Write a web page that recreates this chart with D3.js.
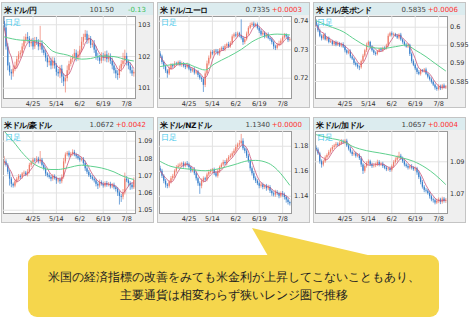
<!DOCTYPE html>
<html>
<head>
<meta charset="utf-8">
<script src="https://cdn.jsdelivr.net/npm/d3@7"></script>
<style>
  body { margin: 0; background: #fff; }
  svg { display: block; }
  text { font-family: "DejaVu Sans", sans-serif; }
</style>
</head>
<body>
<div id="chart"></div>
<script>
// Daily candles, 2014-04-03 .. 2014-07-14 (73 trading days)
const dayCount = 73;
const tickDays = [16, 29, 42, 55, 68];
const tickLabels = ["4/25", "5/14", "6/2", "6/19", "7/8"];

// USD/JPY
const jpyClose = [
  102.9, 102.3, 101.7, 101.5, 101.45, 101.6, 101.7, 101.9, 102.05, 102.1,
  102.3, 102.5, 102.6, 102.55, 102.4, 102.45, 102.3, 102.5, 102.45, 102.3,
  102.4, 102.2, 102.1, 101.95, 101.8, 101.85, 101.7, 101.85, 101.7, 101.5,
  101.45, 101.6, 101.35, 101.2, 101.3, 101.55, 101.75, 101.9, 101.95, 102.1,
  101.95, 102.05, 102.2, 102.45, 102.6, 102.7, 102.5, 102.55, 102.35, 102.4,
  102.2, 102.0, 101.95, 101.85, 102.0, 101.95, 102.05, 101.9, 102.0, 101.85,
  101.7, 101.55, 101.45, 101.4, 101.6, 101.75, 101.85, 102.0, 101.8, 101.7,
  101.55, 101.45, 101.5];
const jpyUpper = [
  0.2, 0.12, 0.1, 0.1, 0.08, 0.1, 0.12, 0.1, 0.1, 0.08,
  0.1, 0.12, 0.1, 0.15, 0.08, 0.1, 0.12, 0.1, 0.1, 0.08,
  0.55, 0.1, 0.12, 0.1, 0.08, 0.1, 0.1, 0.12, 0.1, 0.08,
  0.1, 0.1, 0.12, 0.1, 0.1, 0.15, 0.1, 0.08, 0.1, 0.12,
  0.1, 0.1, 0.12, 0.15, 0.1, 0.12, 0.1, 0.12, 0.08, 0.1,
  0.1, 0.12, 0.1, 0.08, 0.12, 0.1, 0.1, 0.12, 0.1, 0.08,
  0.1, 0.1, 0.08, 0.1, 0.1, 0.12, 0.25, 0.2, 0.1, 0.08,
  0.1, 0.1, 0.08];
const jpyLower = [
  0.1, 0.1, 0.15, 0.12, 0.2, 0.1, 0.08, 0.1, 0.1, 0.12,
  0.1, 0.08, 0.1, 0.1, 0.12, 0.1, 0.1, 0.08, 0.1, 0.12,
  0.1, 0.1, 0.08, 0.12, 0.15, 0.1, 0.12, 0.1, 0.1, 0.12,
  0.1, 0.15, 0.2, 0.15, 0.35, 0.1, 0.1, 0.08, 0.1, 0.1,
  0.12, 0.1, 0.1, 0.08, 0.1, 0.1, 0.12, 0.1, 0.1, 0.08,
  0.1, 0.12, 0.1, 0.1, 0.08, 0.1, 0.12, 0.1, 0.1, 0.1,
  0.12, 0.1, 0.15, 0.15, 0.1, 0.1, 0.08, 0.1, 0.1, 0.12,
  0.1, 0.08, 0.1];
const jpyLongMa = [[0, 102.6], [9, 102.5], [20, 102.47], [27, 102.15], [35, 102.03], [43, 101.9],
  [48, 101.92], [54, 102.0], [61, 101.98], [68, 101.88], [72, 101.84]];

// USD/EUR
const eurClose = [
  0.7275, 0.7255, 0.7240, 0.7225, 0.7215, 0.7232, 0.7245, 0.7240, 0.7250, 0.7248,
  0.7255, 0.7245, 0.7250, 0.7242, 0.7238, 0.7245, 0.7232, 0.7225, 0.7230, 0.7218,
  0.7222, 0.7210, 0.7200, 0.7195, 0.7175, 0.7215, 0.7250, 0.7270, 0.7290, 0.7285,
  0.7295, 0.7292, 0.7285, 0.7298, 0.7305, 0.7300, 0.7312, 0.7318, 0.7310, 0.7322,
  0.7345, 0.7352, 0.7348, 0.7356, 0.7350, 0.7340, 0.7325, 0.7335, 0.7355, 0.7375,
  0.7385, 0.7390, 0.7382, 0.7388, 0.7375, 0.7365, 0.7352, 0.7358, 0.7345, 0.7352,
  0.7340, 0.7335, 0.7325, 0.7310, 0.7305, 0.7315, 0.7320, 0.7330, 0.7342, 0.7350,
  0.7345, 0.7332, 0.7335];
const eurUpper = [
  0.0008, 0.0006, 0.0005, 0.0006, 0.0005, 0.0007, 0.0006, 0.0005, 0.0008, 0.0006,
  0.0005, 0.0006, 0.0007, 0.0005, 0.0006, 0.0008, 0.0005, 0.0006, 0.0005, 0.0007,
  0.0006, 0.0005, 0.0006, 0.0005, 0.0006, 0.0008, 0.0010, 0.0008, 0.0006, 0.0007,
  0.0005, 0.0006, 0.0008, 0.0006, 0.0005, 0.0007, 0.0006, 0.0005, 0.0008, 0.0006,
  0.0007, 0.0006, 0.0008, 0.0006, 0.0005, 0.0055, 0.0006, 0.0008, 0.0007, 0.0006,
  0.0008, 0.0006, 0.0007, 0.0005, 0.0006, 0.0005, 0.0007, 0.0006, 0.0005, 0.0006,
  0.0007, 0.0005, 0.0006, 0.0005, 0.0006, 0.0007, 0.0010, 0.0008, 0.0006, 0.0007,
  0.0006, 0.0005, 0.0006];
const eurLower = [
  0.0006, 0.0008, 0.0010, 0.0008, 0.0015, 0.0006, 0.0005, 0.0007, 0.0006, 0.0005,
  0.0006, 0.0005, 0.0007, 0.0006, 0.0008, 0.0005, 0.0006, 0.0008, 0.0006, 0.0007,
  0.0006, 0.0008, 0.0007, 0.0010, 0.0025, 0.0008, 0.0006, 0.0007, 0.0005, 0.0006,
  0.0007, 0.0005, 0.0006, 0.0008, 0.0005, 0.0006, 0.0007, 0.0005, 0.0006, 0.0005,
  0.0006, 0.0007, 0.0005, 0.0006, 0.0008, 0.0006, 0.0010, 0.0007, 0.0005, 0.0006,
  0.0005, 0.0007, 0.0006, 0.0005, 0.0006, 0.0008, 0.0006, 0.0005, 0.0007, 0.0006,
  0.0005, 0.0006, 0.0008, 0.0010, 0.0008, 0.0006, 0.0005, 0.0006, 0.0007, 0.0005,
  0.0006, 0.0007, 0.0005];
const eurLongMa = [[0, 0.7239], [14, 0.7250], [19, 0.7239], [25, 0.7227], [30, 0.7248], [38, 0.7274],
  [45, 0.7299], [51, 0.7326], [58, 0.7346], [65, 0.7353], [72, 0.7350]];

// USD/GBP
const gbpClose = [
  0.6005, 0.5990, 0.5975, 0.5968, 0.5978, 0.5965, 0.5970, 0.5958, 0.5960, 0.5952,
  0.5958, 0.5950, 0.5955, 0.5948, 0.5952, 0.5945, 0.5935, 0.5928, 0.5932, 0.5918,
  0.5912, 0.5900, 0.5895, 0.5890, 0.5888, 0.5905, 0.5920, 0.5935, 0.5950, 0.5958,
  0.5945, 0.5935, 0.5928, 0.5925, 0.5932, 0.5938, 0.5935, 0.5942, 0.5940, 0.5948,
  0.5975, 0.5982, 0.5978, 0.5980, 0.5975, 0.5970, 0.5978, 0.5965, 0.5958, 0.5950,
  0.5945, 0.5950, 0.5925, 0.5905, 0.5895, 0.5885, 0.5875, 0.5870, 0.5880, 0.5878,
  0.5882, 0.5870, 0.5862, 0.5855, 0.5848, 0.5840, 0.5832, 0.5828, 0.5835, 0.5830,
  0.5838, 0.5832, 0.5835];
const gbpUpper = [
  0.0006, 0.0004, 0.0005, 0.0004, 0.0003, 0.0005, 0.0004, 0.0003, 0.0005, 0.0004,
  0.0003, 0.0004, 0.0005, 0.0003, 0.0004, 0.0005, 0.0004, 0.0003, 0.0004, 0.0005,
  0.0004, 0.0003, 0.0004, 0.0005, 0.0003, 0.0004, 0.0005, 0.0004, 0.0006, 0.0004,
  0.0003, 0.0004, 0.0005, 0.0004, 0.0003, 0.0004, 0.0005, 0.0003, 0.0004, 0.0005,
  0.0006, 0.0004, 0.0005, 0.0004, 0.0003, 0.0005, 0.0004, 0.0005, 0.0003, 0.0004,
  0.0005, 0.0004, 0.0003, 0.0004, 0.0005, 0.0004, 0.0003, 0.0005, 0.0004, 0.0003,
  0.0004, 0.0005, 0.0003, 0.0004, 0.0005, 0.0004, 0.0003, 0.0004, 0.0006, 0.0005,
  0.0004, 0.0005, 0.0004];
const gbpLower = [
  0.0004, 0.0005, 0.0004, 0.0006, 0.0004, 0.0003, 0.0005, 0.0004, 0.0003, 0.0004,
  0.0005, 0.0004, 0.0003, 0.0004, 0.0005, 0.0004, 0.0006, 0.0005, 0.0004, 0.0005,
  0.0004, 0.0006, 0.0005, 0.0006, 0.0008, 0.0004, 0.0003, 0.0004, 0.0005, 0.0004,
  0.0005, 0.0004, 0.0006, 0.0005, 0.0004, 0.0003, 0.0004, 0.0005, 0.0004, 0.0003,
  0.0004, 0.0003, 0.0005, 0.0004, 0.0003, 0.0004, 0.0005, 0.0004, 0.0005, 0.0004,
  0.0003, 0.0004, 0.0006, 0.0005, 0.0004, 0.0005, 0.0006, 0.0004, 0.0005, 0.0004,
  0.0005, 0.0004, 0.0005, 0.0004, 0.0005, 0.0004, 0.0006, 0.0005, 0.0004, 0.0005,
  0.0004, 0.0003, 0.0004];
const gbpLongMa = [[0, 0.60166], [7, 0.60018], [15, 0.59862], [22, 0.59632], [29, 0.59448], [37, 0.59401],
  [44, 0.59448], [50, 0.59494], [55, 0.59355], [61, 0.59171], [66, 0.58987], [72, 0.58775]];

// USD/AUD
const audClose = [
  1.0780, 1.0760, 1.0720, 1.0680, 1.0650, 1.0640, 1.0665, 1.0680, 1.0695, 1.0690,
  1.0710, 1.0715, 1.0705, 1.0720, 1.0760, 1.0775, 1.0790, 1.0785, 1.0795, 1.0780,
  1.0790, 1.0760, 1.0740, 1.0710, 1.0700, 1.0690, 1.0680, 1.0695, 1.0685, 1.0670,
  1.0675, 1.0665, 1.0690, 1.0780, 1.0820, 1.0830, 1.0815, 1.0825, 1.0835, 1.0820,
  1.0810, 1.0800, 1.0790, 1.0795, 1.0770, 1.0740, 1.0720, 1.0700, 1.0690, 1.0680,
  1.0670, 1.0650, 1.0640, 1.0660, 1.0650, 1.0640, 1.0655, 1.0645, 1.0650, 1.0635,
  1.0645, 1.0630, 1.0620, 1.0600, 1.0580, 1.0575, 1.0600, 1.0680, 1.0670, 1.0655,
  1.0645, 1.0630, 1.0672];
const audUpper = [
  0.0030, 0.0012, 0.0010, 0.0012, 0.0010, 0.0008, 0.0012, 0.0010, 0.0012, 0.0010,
  0.0008, 0.0012, 0.0010, 0.0015, 0.0012, 0.0010, 0.0012, 0.0010, 0.0015, 0.0012,
  0.0050, 0.0010, 0.0012, 0.0010, 0.0008, 0.0012, 0.0010, 0.0012, 0.0010, 0.0008,
  0.0010, 0.0012, 0.0015, 0.0020, 0.0012, 0.0010, 0.0012, 0.0010, 0.0015, 0.0012,
  0.0010, 0.0012, 0.0010, 0.0012, 0.0010, 0.0015, 0.0012, 0.0010, 0.0012, 0.0010,
  0.0012, 0.0010, 0.0012, 0.0015, 0.0010, 0.0012, 0.0010, 0.0012, 0.0010, 0.0012,
  0.0010, 0.0012, 0.0010, 0.0012, 0.0010, 0.0012, 0.0020, 0.0035, 0.0015, 0.0012,
  0.0010, 0.0012, 0.0015];
const audLower = [
  0.0012, 0.0010, 0.0015, 0.0040, 0.0020, 0.0012, 0.0010, 0.0012, 0.0010, 0.0012,
  0.0010, 0.0012, 0.0010, 0.0012, 0.0010, 0.0012, 0.0010, 0.0012, 0.0010, 0.0012,
  0.0012, 0.0010, 0.0012, 0.0015, 0.0012, 0.0010, 0.0015, 0.0012, 0.0010, 0.0020,
  0.0012, 0.0015, 0.0012, 0.0010, 0.0012, 0.0010, 0.0012, 0.0010, 0.0012, 0.0010,
  0.0012, 0.0010, 0.0012, 0.0010, 0.0012, 0.0015, 0.0012, 0.0010, 0.0012, 0.0010,
  0.0012, 0.0015, 0.0020, 0.0012, 0.0010, 0.0012, 0.0010, 0.0012, 0.0010, 0.0012,
  0.0010, 0.0012, 0.0015, 0.0020, 0.0050, 0.0030, 0.0015, 0.0012, 0.0010, 0.0020,
  0.0030, 0.0012, 0.0010];
const audLongMa = [[0, 1.0955], [5, 1.0896], [11, 1.0819], [17, 1.0762], [26, 1.0733], [30, 1.0733],
  [35, 1.0742], [43, 1.0758], [48, 1.0752], [54, 1.0742], [61, 1.0719], [66, 1.0694], [72, 1.0675]];

// USD/NZD
const nzdClose = [
  1.1600, 1.1560, 1.1520, 1.1490, 1.1480, 1.1510, 1.1540, 1.1560, 1.1600, 1.1630,
  1.1640, 1.1650, 1.1660, 1.1640, 1.1660, 1.1650, 1.1630, 1.1600, 1.1610, 1.1580,
  1.1540, 1.1500, 1.1480, 1.1520, 1.1540, 1.1530, 1.1570, 1.1590, 1.1600, 1.1610,
  1.1580, 1.1560, 1.1600, 1.1630, 1.1650, 1.1670, 1.1660, 1.1690, 1.1710, 1.1720,
  1.1740, 1.1760, 1.1790, 1.1810, 1.1820, 1.1840, 1.1780, 1.1760, 1.1720, 1.1680,
  1.1620, 1.1580, 1.1540, 1.1520, 1.1500, 1.1480, 1.1490, 1.1470, 1.1480, 1.1460,
  1.1470, 1.1440, 1.1420, 1.1410, 1.1430, 1.1420, 1.1400, 1.1420, 1.1410, 1.1390,
  1.1370, 1.1350, 1.1340];
const nzdUpper = [
  0.0020, 0.0015, 0.0012, 0.0015, 0.0012, 0.0015, 0.0018, 0.0015, 0.0012, 0.0015,
  0.0018, 0.0015, 0.0012, 0.0015, 0.0012, 0.0018, 0.0015, 0.0012, 0.0015, 0.0018,
  0.0015, 0.0012, 0.0015, 0.0018, 0.0015, 0.0012, 0.0015, 0.0018, 0.0015, 0.0012,
  0.0015, 0.0018, 0.0015, 0.0012, 0.0015, 0.0018, 0.0015, 0.0012, 0.0015, 0.0018,
  0.0015, 0.0018, 0.0020, 0.0015, 0.0025, 0.0055, 0.0020, 0.0015, 0.0018, 0.0015,
  0.0012, 0.0015, 0.0018, 0.0015, 0.0012, 0.0015, 0.0018, 0.0015, 0.0012, 0.0015,
  0.0018, 0.0015, 0.0012, 0.0015, 0.0018, 0.0015, 0.0012, 0.0015, 0.0018, 0.0015,
  0.0012, 0.0015, 0.0012];
const nzdLower = [
  0.0015, 0.0018, 0.0020, 0.0025, 0.0020, 0.0015, 0.0012, 0.0015, 0.0018, 0.0015,
  0.0012, 0.0015, 0.0018, 0.0015, 0.0012, 0.0015, 0.0018, 0.0015, 0.0012, 0.0015,
  0.0018, 0.0020, 0.0065, 0.0020, 0.0015, 0.0018, 0.0015, 0.0012, 0.0015, 0.0018,
  0.0015, 0.0012, 0.0015, 0.0018, 0.0015, 0.0012, 0.0015, 0.0018, 0.0015, 0.0012,
  0.0015, 0.0012, 0.0015, 0.0018, 0.0015, 0.0012, 0.0015, 0.0020, 0.0018, 0.0015,
  0.0020, 0.0018, 0.0015, 0.0018, 0.0015, 0.0020, 0.0015, 0.0018, 0.0015, 0.0020,
  0.0015, 0.0018, 0.0020, 0.0015, 0.0018, 0.0015, 0.0020, 0.0015, 0.0018, 0.0020,
  0.0025, 0.0020, 0.0018];
const nzdLongMa = [[0, 1.1675], [6, 1.1635], [16, 1.1613], [25, 1.1600], [34, 1.1621], [41, 1.1648],
  [49, 1.1680], [53, 1.1683], [60, 1.1661], [65, 1.1608], [69, 1.1541], [72, 1.1483]];

// USD/CAD
const cadClose = [
  1.0975, 1.0950, 1.0900, 1.0880, 1.0900, 1.0925, 1.0940, 1.0960, 1.0975, 1.0990,
  1.1000, 1.1010, 1.1005, 1.1015, 1.1025, 1.1020, 1.1030, 1.1000, 1.0980, 1.0960,
  1.0945, 1.0950, 1.0935, 1.0940, 1.0920, 1.0880, 1.0840, 1.0870, 1.0890, 1.0900,
  1.0880, 1.0870, 1.0875, 1.0880, 1.0895, 1.0880, 1.0885, 1.0870, 1.0860, 1.0850,
  1.0855, 1.0845, 1.0870, 1.0895, 1.0910, 1.0925, 1.0935, 1.0920, 1.0900, 1.0880,
  1.0870, 1.0860, 1.0870, 1.0860, 1.0850, 1.0855, 1.0830, 1.0800, 1.0770, 1.0740,
  1.0720, 1.0715, 1.0700, 1.0680, 1.0660, 1.0655, 1.0640, 1.0650, 1.0660, 1.0645,
  1.0665, 1.0650, 1.0657];
const cadUpper = [
  0.0015, 0.0012, 0.0010, 0.0012, 0.0010, 0.0012, 0.0010, 0.0012, 0.0010, 0.0012,
  0.0010, 0.0012, 0.0010, 0.0012, 0.0015, 0.0012, 0.0010, 0.0012, 0.0010, 0.0012,
  0.0010, 0.0012, 0.0010, 0.0012, 0.0010, 0.0012, 0.0010, 0.0012, 0.0010, 0.0012,
  0.0010, 0.0012, 0.0010, 0.0012, 0.0015, 0.0012, 0.0010, 0.0012, 0.0010, 0.0012,
  0.0010, 0.0012, 0.0010, 0.0012, 0.0015, 0.0012, 0.0025, 0.0012, 0.0010, 0.0012,
  0.0010, 0.0012, 0.0010, 0.0012, 0.0010, 0.0012, 0.0010, 0.0012, 0.0010, 0.0012,
  0.0010, 0.0012, 0.0010, 0.0012, 0.0010, 0.0012, 0.0010, 0.0015, 0.0012, 0.0010,
  0.0012, 0.0010, 0.0012];
const cadLower = [
  0.0012, 0.0010, 0.0015, 0.0020, 0.0012, 0.0010, 0.0012, 0.0010, 0.0012, 0.0010,
  0.0012, 0.0010, 0.0012, 0.0010, 0.0012, 0.0010, 0.0012, 0.0010, 0.0012, 0.0010,
  0.0012, 0.0010, 0.0012, 0.0010, 0.0012, 0.0015, 0.0020, 0.0012, 0.0010, 0.0012,
  0.0010, 0.0012, 0.0010, 0.0012, 0.0010, 0.0012, 0.0010, 0.0012, 0.0010, 0.0012,
  0.0010, 0.0012, 0.0010, 0.0012, 0.0010, 0.0012, 0.0010, 0.0012, 0.0010, 0.0012,
  0.0010, 0.0012, 0.0010, 0.0012, 0.0010, 0.0012, 0.0015, 0.0012, 0.0015, 0.0012,
  0.0015, 0.0012, 0.0010, 0.0015, 0.0012, 0.0015, 0.0012, 0.0010, 0.0012, 0.0015,
  0.0012, 0.0010, 0.0012];
const cadLongMa = [[0, 1.1068], [7, 1.1047], [15, 1.1026], [20, 1.0995], [28, 1.0967], [35, 1.0953],
  [42, 1.0938], [48, 1.0921], [54, 1.0900], [61, 1.0858], [66, 1.0816], [72, 1.0753]];

const pairs = [
  { name: "米ドル/円", last: "101.50", change: "-0.13", open0: 103.1, close: jpyClose, upper: jpyUpper, lower: jpyLower,
    longMa: jpyLongMa, domain: [100.675, 103.26], ticks: [101, 102, 103] },
  { name: "米ドル/ユーロ", last: "0.7335", change: "+0.0003", open0: 0.7285, close: eurClose, upper: eurUpper, lower: eurLower,
    longMa: eurLongMa, domain: [0.71288, 0.74165], ticks: [0.72, 0.73, 0.74] },
  { name: "米ドル/英ポンド", last: "0.5835", change: "+0.0006", open0: 0.6015, close: gbpClose, upper: gbpUpper, lower: gbpLower,
    longMa: gbpLongMa, domain: [0.5803, 0.60296], ticks: [0.585, 0.59, 0.595, 0.6] },
  { name: "米ドル/豪ドル", last: "1.0672", change: "+0.0042", open0: 1.0770, close: audClose, upper: audUpper, lower: audLower,
    longMa: audLongMa, domain: [1.0481, 1.0956], ticks: [1.05, 1.06, 1.07, 1.08, 1.09] },
  { name: "米ドル/NZドル", last: "1.1340", change: "+0.0000", open0: 1.1620, close: nzdClose, upper: nzdUpper, lower: nzdLower,
    longMa: nzdLongMa, domain: [1.1262, 1.1918], ticks: [1.14, 1.16, 1.18] },
  { name: "米ドル/加ドル", last: "1.0657", change: "+0.0004", open0: 1.0985, close: cadClose, upper: cadUpper, lower: cadLower,
    longMa: cadLongMa, domain: [1.0574, 1.1091], ticks: [1.07, 1.09] }
];

const comment = [
  "米国の経済指標の改善をみても米金利が上昇してこないこともあり、",
  "主要通貨は相変わらず狭いレンジ圏で推移"
];

const width = 471, height = 321;
const panelX = [1, 157, 313], panelY = [2, 117];
const panelW = 152, panelH = 105;

const svg = d3.select("#chart").append("svg")
  .attr("width", width)
  .attr("height", height);

svg.append("rect").attr("width", width).attr("height", height).attr("fill", "#fff");

pairs.forEach(function (p, k) {
  const x0 = panelX[k % 3], y0 = panelY[Math.floor(k / 3)];
  const left = x0 + 2, right = x0 + 134, top = y0 + 14, bottom = y0 + 96;

  const x = d3.scaleBand().domain(d3.range(dayCount)).range([left, right]).padding(0.3);
  const y = d3.scaleLinear().domain(p.domain).range([bottom, top]);
  const cx = function (i) { return x(i) + x.bandwidth() / 2; };

  const g = svg.append("g");

  // panel frame and title bar
  g.append("rect")
    .attr("x", x0 + 0.5).attr("y", y0 + 0.5)
    .attr("width", panelW).attr("height", panelH)
    .attr("fill", "#efefef").attr("stroke", "#c4c4c4");
  g.append("rect")
    .attr("x", x0 + 1).attr("y", y0 + 1)
    .attr("width", panelW - 1).attr("height", 12)
    .attr("fill", "#dcecef");
  g.append("text")
    .attr("x", x0 + 3).attr("y", y0 + 10.5)
    .attr("font-family", "'Noto Sans CJK JP', sans-serif")
    .attr("font-size", 7.5).attr("font-weight", "bold")
    .attr("letter-spacing", -0.4)
    .attr("fill", "#111")
    .text(p.name);
  g.append("text")
    .attr("x", x0 + 113).attr("y", y0 + 10)
    .attr("text-anchor", "end")
    .attr("font-family", "'Liberation Sans', Arial, sans-serif")
    .attr("font-size", 7).attr("fill", "#444")
    .text(p.last);
  g.append("text")
    .attr("x", x0 + 145).attr("y", y0 + 10)
    .attr("text-anchor", "end")
    .attr("font-family", "'Liberation Sans', Arial, sans-serif")
    .attr("font-size", 7)
    .attr("fill", p.change.startsWith("-") ? "#3cbf5a" : "#ff3030")
    .text(p.change);

  // plot area
  g.append("rect")
    .attr("x", left + 0.5).attr("y", top + 0.5)
    .attr("width", right - left).attr("height", bottom - top)
    .attr("fill", "#fff").attr("stroke", "#9a9a9a");

  // grid
  g.append("g")
    .attr("transform", "translate(0," + bottom + ")")
    .call(d3.axisBottom(x).tickValues(tickDays).tickSize(-(bottom - top)).tickFormat(""))
    .call(function (a) { a.select(".domain").remove(); })
    .selectAll("line").attr("stroke", "#e2e2e2");
  g.append("g")
    .attr("transform", "translate(" + left + ",0)")
    .call(d3.axisLeft(y).tickValues(p.ticks).tickSize(-(right - left)).tickFormat(""))
    .call(function (a) { a.select(".domain").remove(); })
    .selectAll("line").attr("stroke", "#e2e2e2");

  // axis labels
  const yAxis = g.append("g")
    .attr("transform", "translate(" + right + ",0)")
    .call(d3.axisRight(y).tickValues(p.ticks).tickSize(0).tickPadding(3).tickFormat(function (d) { return String(d); }));
  yAxis.select(".domain").remove();
  yAxis.selectAll("text").attr("font-size", 6.5).attr("fill", "#333").attr("font-family", "'DejaVu Sans', sans-serif");

  const xAxis = g.append("g")
    .attr("transform", "translate(0," + bottom + ")")
    .call(d3.axisBottom(x).tickValues(tickDays).tickSize(0).tickPadding(3)
      .tickFormat(function (d, i) { return tickLabels[i]; }));
  xAxis.select(".domain").remove();
  xAxis.selectAll("text").attr("font-size", 6.5).attr("fill", "#333").attr("font-family", "'DejaVu Sans', sans-serif");

  // candles
  const clipId = "clip" + k;
  g.append("clipPath").attr("id", clipId)
    .append("rect").attr("x", left + 1).attr("y", top + 1)
    .attr("width", right - left - 1).attr("height", bottom - top - 1);
  const plot = g.append("g").attr("clip-path", "url(#" + clipId + ")");

  const bars = p.close.map(function (c, i) {
    const o = i === 0 ? p.open0 : p.close[i - 1];
    return { i: i, o: o, c: c, h: Math.max(o, c) + p.upper[i], l: Math.min(o, c) - p.lower[i] };
  });
  const colorOf = function (d) { return d.c >= d.o ? "#ee7d6c" : "#3a80cc"; };

  plot.selectAll(".wick")
    .data(bars)
    .enter()
    .append("line")
    .attr("x1", function (d) { return cx(d.i); })
    .attr("x2", function (d) { return cx(d.i); })
    .attr("y1", function (d) { return y(d.h); })
    .attr("y2", function (d) { return y(d.l); })
    .attr("stroke", colorOf)
    .attr("stroke-width", 0.7);
  plot.selectAll(".body")
    .data(bars)
    .enter()
    .append("rect")
    .attr("x", function (d) { return x(d.i); })
    .attr("width", x.bandwidth())
    .attr("y", function (d) { return y(Math.max(d.o, d.c)); })
    .attr("height", function (d) { return Math.max(0.8, Math.abs(y(d.o) - y(d.c))); })
    .attr("fill", colorOf);

  // short moving average (5 days) of the closes
  const shortMa = p.close.map(function (c, i) {
    return [i, d3.mean(p.close.slice(Math.max(0, i - 4), i + 1))];
  });
  plot.append("path")
    .datum(shortMa)
    .attr("fill", "none")
    .attr("stroke", "#c9557a")
    .attr("stroke-width", 0.8)
    .attr("d", d3.line().x(function (d) { return cx(d[0]); }).y(function (d) { return y(d[1]); }));

  // long moving average
  plot.append("path")
    .datum(p.longMa)
    .attr("fill", "none")
    .attr("stroke", "#5fd08e")
    .attr("stroke-width", 1)
    .attr("d", d3.line().curve(d3.curveMonotoneX)
      .x(function (d) { return cx(d[0]); }).y(function (d) { return y(d[1]); }));

  g.append("text")
    .attr("x", left + 2).attr("y", top + 9)
    .attr("font-family", "'Noto Sans CJK JP', sans-serif")
    .attr("font-size", 8)
    .attr("fill", "#3cc6ea")
    .text("日足");
});

// callout bubble
const bubble = svg.append("g");
bubble.append("path")
  .attr("d", "M252,228 L268,256 L372,256 Z")
  .attr("fill", "#f5d64c");
bubble.append("rect")
  .attr("x", 28).attr("y", 255)
  .attr("width", 411).attr("height", 62)
  .attr("rx", 9)
  .attr("fill", "#f5d64c");
bubble.selectAll("text")
  .data(comment)
  .enter()
  .append("text")
  .attr("x", 234)
  .attr("y", function (d, i) { return 281 + i * 18; })
  .attr("text-anchor", "middle")
  .attr("font-family", "'Noto Sans CJK JP', sans-serif")
  .attr("font-size", 11.5)
  .attr("fill", "#222")
  .text(function (d) { return d; });
</script>
</body>
</html>
